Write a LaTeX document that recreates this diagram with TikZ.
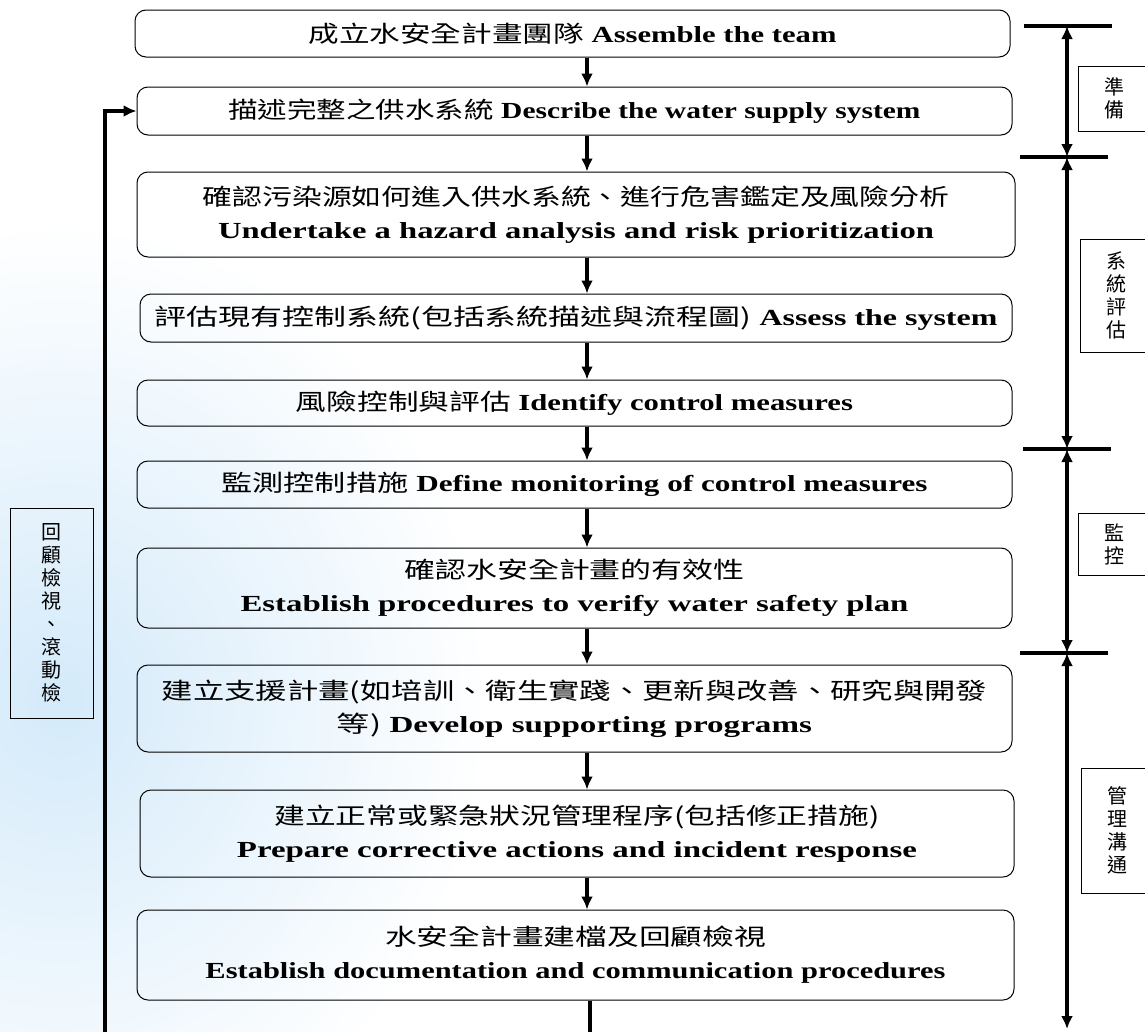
\documentclass[tikz,border=0pt]{standalone}
\usepackage{fontspec}
\setmainfont{Liberation Serif}
\newfontfamily\cjk{Noto Sans CJK TC}
\usepackage{tikz}
\usetikzlibrary{arrows.meta}
\definecolor{wash}{RGB}{212,234,250}
\newcommand{\zh}[1]{{\cjk #1}}
\newcommand{\fitline}[2]{\resizebox{#1pt}{\height}{#2}}

\begin{document}
\begin{tikzpicture}[x=1pt,y=-1pt,
		stage/.style={draw,line width=1pt,rounded corners=11pt,inner sep=0pt,align=center,font=\fontsize{23}{33}\selectfont},
		tag/.style={draw,line width=0.8pt,inner sep=0pt,align=center,font=\fontsize{20}{23}\selectfont\cjk},
		flow/.style={line width=3.2pt,-{Latex[length=13pt,width=12pt]}},
		both/.style={line width=3.2pt,{Latex[length=13pt,width=12pt]}-{Latex[length=13pt,width=12pt]}},
		tick/.style={line width=3.2pt}]
		\useasboundingbox (0,0) rectangle (1145,1031);
		\clip (0,0) rectangle (1145,1031);
%		\draw[help lines] (0,0) grid[step=50] (1145,1031);
		\shade[inner color=wash,outer color=white] (60,700) ellipse [x radius=430,y radius=480];
		\path (587,0) coordinate (col);
		\path (590,1040) coordinate (tail);
		\path (105,1040) coordinate (loop);
		\path (1024,26) coordinate (t1l);
		\path (1112,26) coordinate (t1r);
		\path (1020,157) coordinate (t2l);
		\path (1108,157) coordinate (t2r);
		\path (1023,449) coordinate (t3l);
		\path (1111,449) coordinate (t3r);
		\path (1020,653) coordinate (t4l);
		\path (1108,653) coordinate (t4r);
		\path (1067,26) coordinate (m1);
		\path (1067,157) coordinate (m2);
		\path (1067,449) coordinate (m3);
		\path (1067,653) coordinate (m4);
		\path (1067,1029) coordinate (m5);

		\path (572.5,33.5) node(team) [stage,minimum width=875,minimum height=47]
			{\fitline{528}{\zh{成立水安全計畫團隊} \textbf{Assemble the team}}};
		\path (574.5,111) node(system) [stage,minimum width=875,minimum height=48]
			{\fitline{692}{\zh{描述完整之供水系統} \textbf{Describe the water supply system}}};
		\path (576,214.5) node(hazard) [stage,minimum width=878,minimum height=85]
			{\fitline{747}{\zh{確認污染源如何進入供水系統、進行危害鑑定及風險分析}}\\
			 \fitline{716}{\textbf{Undertake a hazard analysis and risk prioritization}}};
		\path (576,318) node(assess) [stage,minimum width=872,minimum height=48]
			{\fitline{843}{\zh{評估現有控制系統(包括系統描述與流程圖)} \textbf{Assess the system}}};
		\path (574.5,403) node(identify) [stage,minimum width=875,minimum height=46]
			{\fitline{557}{\zh{風險控制與評估} \textbf{Identify control measures}}};
		\path (574.5,484.5) node(monitor) [stage,minimum width=875,minimum height=47]
			{\fitline{706}{\zh{監測控制措施} \textbf{Define monitoring of control measures}}};
		\path (574.5,588) node(verify) [stage,minimum width=875,minimum height=80]
			{\fitline{340}{\zh{確認水安全計畫的有效性}}\\
			 \fitline{668}{\textbf{Establish procedures to verify water safety plan}}};
		\path (574.5,708.5) node(support) [stage,minimum width=875,minimum height=87]
			{\fitline{825}{\zh{建立支援計畫(如培訓、衛生實踐、更新與改善、研究與開發}}\\
			 \fitline{475}{\zh{等)} \textbf{Develop supporting programs}}};
		\path (577,833.5) node(incident) [stage,minimum width=874,minimum height=87]
			{\fitline{605}{\zh{建立正常或緊急狀況管理程序(包括修正措施)}}\\
			 \fitline{680}{\textbf{Prepare corrective actions and incident response}}};
		\path (575.5,955) node(document) [stage,minimum width=877,minimum height=90]
			{\fitline{381}{\zh{水安全計畫建檔及回顧檢視}}\\
			 \fitline{740}{\textbf{Establish documentation and communication procedures}}};

		\draw[flow] (team.south -| col) -- (system.north -| col);
		\draw[flow] (system.south -| col) -- (hazard.north -| col);
		\draw[flow] (hazard.south -| col) -- (assess.north -| col);
		\draw[flow] (assess.south -| col) -- (identify.north -| col);
		\draw[flow] (identify.south -| col) -- (monitor.north -| col);
		\draw[flow] (monitor.south -| col) -- (verify.north -| col);
		\draw[flow] (verify.south -| col) -- (support.north -| col);
		\draw[flow] (support.south -| col) -- (incident.north -| col);
		\draw[flow] (incident.south -| col) -- (document.north -| col);
		\draw[tick] (document.south -| tail) -- (tail);
		\draw[flow] (loop) |- (system.west);

		\path (51.5,613) node(review) [tag,minimum width=83,minimum height=210]
			{回\\顧\\檢\\視\\、\\滾\\動\\檢};

		\draw[tick] (t1l) -- (t1r);
		\draw[tick] (t2l) -- (t2r);
		\draw[tick] (t3l) -- (t3r);
		\draw[tick] (t4l) -- (t4r);
		\draw[both] (m1) -- (m2);
		\draw[both] (m2) -- (m3);
		\draw[both] (m3) -- (m4);
		\draw[both] (m4) -- (m5);

		\path (1114,98.5) node(prepare) [tag,minimum width=72,minimum height=65] {準\\備};
		\path (1116,295.5) node(evaluate) [tag,minimum width=72,minimum height=113] {系\\統\\評\\估};
		\path (1114,544) node(control) [tag,minimum width=72,minimum height=62] {監\\控};
		\path (1117,830.5) node(manage) [tag,minimum width=72,minimum height=125] {管\\理\\溝\\通};
	\end{tikzpicture}
\end{document}
